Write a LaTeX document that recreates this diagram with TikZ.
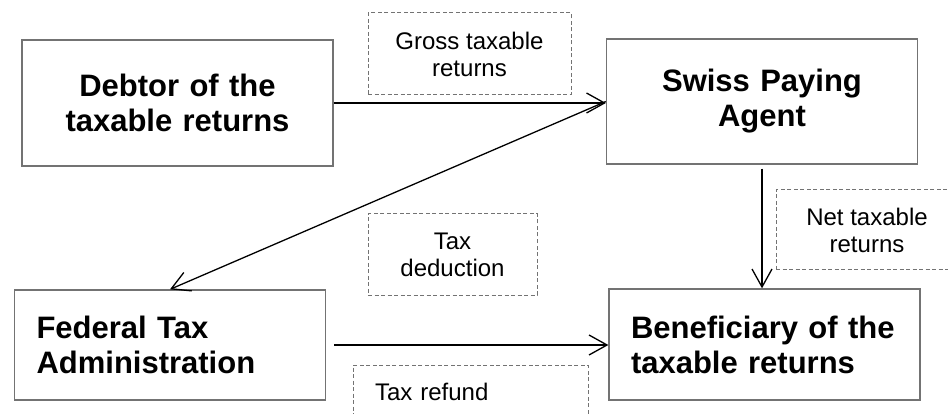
\documentclass[tikz,border=0pt]{standalone}
\usepackage{fontspec}
\setmainfont{Liberation Sans}
\usetikzlibrary{positioning,arrows.meta}

\begin{document}
\begin{tikzpicture}[x=1pt, y=-1pt,
    party/.style={rectangle, draw=black!55, line width=1.3pt, inner xsep=22pt, text width=267pt, font=\fontsize{31}{35}\selectfont\bfseries},
    flowlabel/.style={rectangle, draw=black!55, dash pattern=on 4pt off 2.5pt, line width=1pt, font=\fontsize{24}{27}\selectfont, align=center},
    arrow/.style={-{Straight Barb[length=18pt,width=20pt]}, line width=1.3pt}
]
\clip (0,0) rectangle (948,414);

% Parties
\node[party, align=center, minimum height=126pt] (debtor) at (177.5,103) {Debtor of the\\taxable returns};
\node[party, align=center, minimum height=125pt] (agent) at (762,101.5) {Swiss Paying\\Agent};
\node[party, align=left, minimum height=110pt] (fta) at (170,345) {Federal Tax\\Administration};
\node[party, align=left, minimum height=111pt] (benef) at (764.5,344.5) {Beneficiary of the\\taxable returns};

% Flows
\node[flowlabel, minimum width=203pt, minimum height=82pt] (gross) at (469.5,54) {Gross taxable\\returns};
\node[flowlabel, minimum width=169pt, minimum height=81pt] (deduct) at (452.5,254.5) {Tax\\deduction};
\node[flowlabel, minimum width=182pt, minimum height=80pt] (net) at (867,230) {Net taxable\\returns};
\node[flowlabel, align=left, inner xsep=22pt, text width=191pt, minimum height=54pt] (refund) at (470.5,392) {Tax refund};

% Arrows between parties
\draw[arrow] (debtor.east) -- (agent.west |- debtor.east);
\draw[arrow] (agent.west) -- (fta.north);
\draw[arrow, shorten <=4pt] (agent.south) -- (agent.south |- benef.north);
\draw[arrow, shorten <=8pt] (fta.east) -- (benef.west |- fta.east);

\end{tikzpicture}
\end{document}
